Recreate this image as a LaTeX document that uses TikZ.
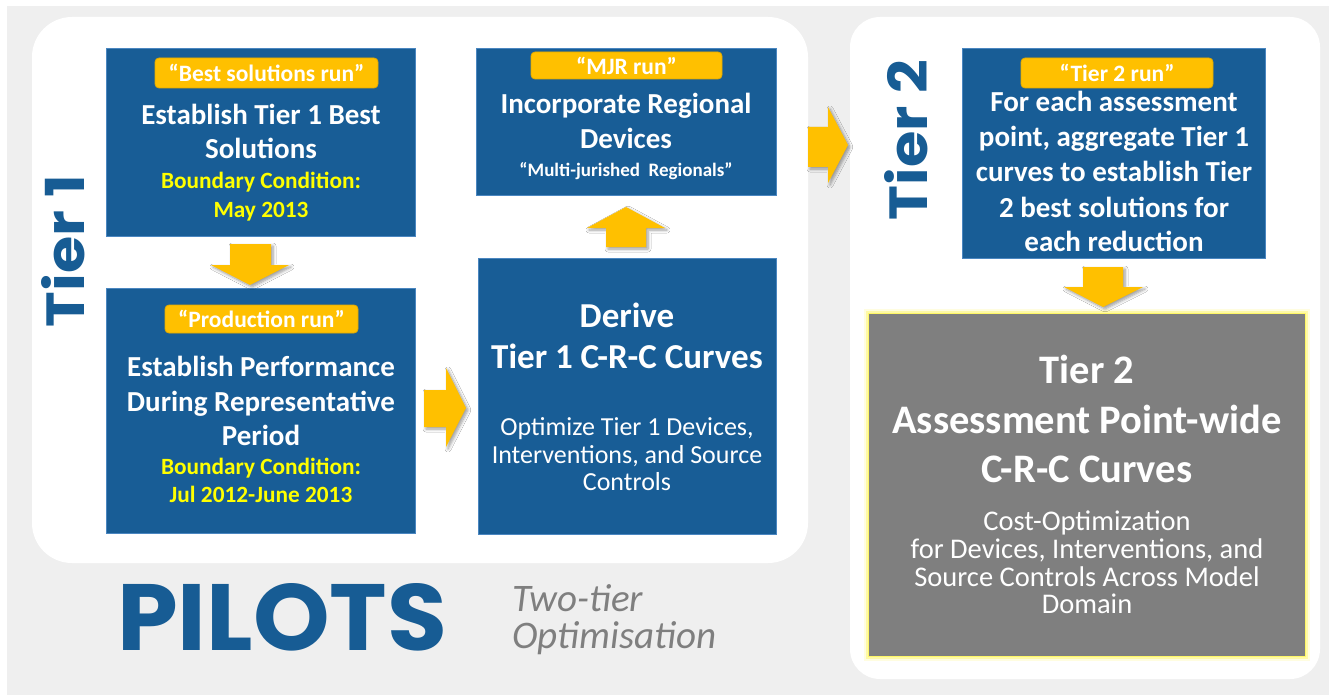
\documentclass[tikz,border=0pt]{standalone}
\usepackage{fontspec}
\usepackage{graphicx}
\setmainfont{Carlito}
\newfontfamily\tierfont{Poppins}
\usetikzlibrary{shadows.blur}
\definecolor{bgray}{HTML}{EFEFEF}
\definecolor{boxblue}{HTML}{185D96}
\definecolor{edgeblue}{HTML}{4A86C0}
\definecolor{arrowy}{HTML}{FFC000}
\definecolor{labeledge}{HTML}{E3AA00}
\definecolor{txty}{HTML}{FFFF00}
\definecolor{tierblue}{HTML}{175C94}
\definecolor{boxgray}{HTML}{7F7F7F}
\definecolor{graytext}{HTML}{7F7F7F}
\begin{document}
\begin{tikzpicture}[x=1pt,y=-1pt,
  bluebox/.style={draw=edgeblue, line width=0.8pt, fill=boxblue, inner sep=0pt},
  graybox/.style={fill=boxgray, inner sep=0pt, draw=yellow!60!white, line width=1pt,
    preaction={draw=yellow, line width=9pt, draw opacity=0.12},
    preaction={draw=yellow, line width=5pt, draw opacity=0.25}},
  runlabel/.style={draw=labeledge, line width=0.8pt, fill=arrowy, rounded corners=4pt, inner sep=0pt,
    text=white, font=\bfseries\fontsize{23.5}{26}\selectfont},
  blockarrow/.style={fill=arrowy, draw=none, blur shadow={shadow xshift=2pt, shadow yshift=-2pt, shadow blur steps=6, shadow blur radius=3pt}},
  tb/.style={anchor=base, inner sep=0pt, text=white, font=\bfseries\fontsize{29}{34}\selectfont},
  tbig/.style={anchor=base, inner sep=0pt, text=white, font=\bfseries\fontsize{35}{40}\selectfont},
  thuge/.style={anchor=base, inner sep=0pt, text=white, font=\bfseries\fontsize{40.5}{46}\selectfont},
  tsmall/.style={anchor=base, inner sep=0pt, text=white, font=\bfseries\fontsize{19}{22}\selectfont},
  tyel/.style={anchor=base, inner sep=0pt, text=txty, font=\bfseries\fontsize{23.3}{26}\selectfont},
  treg/.style={anchor=base, inner sep=0pt, text=white, font=\fontsize{26}{28}\selectfont},
  tregb/.style={anchor=base, inner sep=0pt, text=white, font=\fontsize{28.5}{28}\selectfont},
  subtitle/.style={anchor=base west, inner sep=0pt, text=graytext, font=\itshape\fontsize{39}{42}\selectfont},
]
\useasboundingbox (0,0) rectangle (1329,695);
\fill[white] (0,0) rectangle (1329,695);
\fill[bgray] (7,6) rectangle (1329,695);
\fill[white, rounded corners=40pt] (32,17) rectangle (808,563);
\fill[white, rounded corners=30pt] (850,17) rectangle (1320,679);

% boxes
\node[bluebox, minimum width=309pt, minimum height=188pt] (b1) at (260.5,142) {};
\node[bluebox, minimum width=309pt, minimum height=245pt] (b2) at (260.5,410.5) {};
\node[bluebox, minimum width=298pt, minimum height=276pt] (b3) at (627,396) {};
\node[bluebox, minimum width=300pt, minimum height=147pt] (b4) at (626,121.5) {};
\node[bluebox, minimum width=303pt, minimum height=210pt] (b5) at (1113.5,153) {};
\node[graybox, minimum width=437pt, minimum height=343pt] (b6) at (1086.5,484.5) {};

% run labels
\node[runlabel, minimum width=223pt, minimum height=30pt] (l1) at (266.5,73) {“Best solutions run”};
\node[runlabel, minimum width=193pt, minimum height=28pt] (l2) at (261.5,319) {“Production run”};
\node[runlabel, minimum width=191pt, minimum height=27pt] (l4) at (626.5,65.5) {“MJR run”};
\node[runlabel, minimum width=192pt, minimum height=30pt] (l5) at (1117,73) {“Tier 2 run”};

% box 1 text
\node[tb] (b1a) at (261,125) {Establish Tier 1 Best};
\node[tb] (b1b) at (261,159) {Solutions};
\node[tyel] (b1c) at (261,188) {Boundary Condition:};
\node[tyel] (b1d) at (261,217) {May 2013};

% box 2 text
\node[tb] (b2a) at (261,376) {Establish Performance};
\node[tb] (b2b) at (261,411) {During Representative};
\node[tb] (b2c) at (261,445) {Period};
\node[tyel] (b2d) at (261,474) {Boundary Condition:};
\node[tyel] (b2e) at (261,502) {Jul 2012-June 2013};

% box 4 text
\node[tb] (b4a) at (626,114) {Incorporate Regional};
\node[tb] (b4b) at (626,149) {Devices};
\node[tsmall] (b4c) at (626,176) {“Multi-jurished\ \ Regionals”};

% box 3 text
\node[tbig] (b3a) at (627,327) {Derive};
\node[tbig] (b3b) at (627,368) {Tier 1 C-R-C Curves};
\node[treg] (b3c) at (627,435) {Optimize Tier 1 Devices,};
\node[treg] (b3d) at (627,463) {Interventions, and Source};
\node[treg] (b3e) at (627,490) {Controls};

% box 5 text
\node[tb] (b5a) at (1114,112) {For each assessment};
\node[tb] (b5b) at (1114,147) {point, aggregate Tier 1};
\node[tb] (b5c) at (1114,182) {curves to establish Tier};
\node[tb] (b5d) at (1114,217) {2 best solutions for};
\node[tb] (b5e) at (1114,251) {each reduction};

% box 6 text
\node[thuge] (b6a) at (1087,383) {Tier 2};
\node[thuge] (b6b) at (1087,433) {Assessment Point-wide};
\node[thuge] (b6c) at (1087,482) {C-R-C Curves};
\node[tregb] (b6d) at (1087,530) {Cost-Optimization};
\node[tregb] (b6e) at (1087,558) {for Devices, Interventions, and};
\node[tregb] (b6f) at (1087,586) {Source Controls Across Model};
\node[tregb] (b6g) at (1087,613) {Domain};

% tier labels
\node[rotate=90, inner sep=0pt, text=tierblue] (tier1) at (63.5,251) {\resizebox{152pt}{43pt}{\tierfont\bfseries Tier 1}};
\node[rotate=90, inner sep=0pt, text=tierblue] (tier2) at (906.5,140) {\resizebox{160pt}{43pt}{\tierfont\bfseries Tier 2}};

% title
\node[anchor=base west, inner sep=0pt, text=tierblue] (pilots) at (117,650) {\resizebox{330pt}{67pt}{\tierfont\bfseries PILOTS}};
\node[subtitle] (two) at (512,611) {Two-tier};
\node[subtitle] (opt) at (512,648) {Optimisation};

% block arrows
\fill[blockarrow] (230,244) -- (271,244) -- (271,265) -- (289,265) -- (250,285) -- (211,265) -- (230,265) -- cycle;
\fill[blockarrow] (424,390) -- (446,390) -- (446,368) -- (466,408) -- (446,447) -- (446,427) -- (424,427) -- cycle;
\fill[blockarrow] (606,247) -- (606,228) -- (587,228) -- (626,207) -- (665,228) -- (646,228) -- (646,247) -- cycle;
\fill[blockarrow] (808,127) -- (828,127) -- (828,107) -- (848,145) -- (828,183) -- (828,167) -- (808,167) -- cycle;
\fill[blockarrow] (1083,267) -- (1123,267) -- (1123,287) -- (1143,287) -- (1103,307) -- (1064,287) -- (1083,287) -- cycle;
\end{tikzpicture}
\end{document}
